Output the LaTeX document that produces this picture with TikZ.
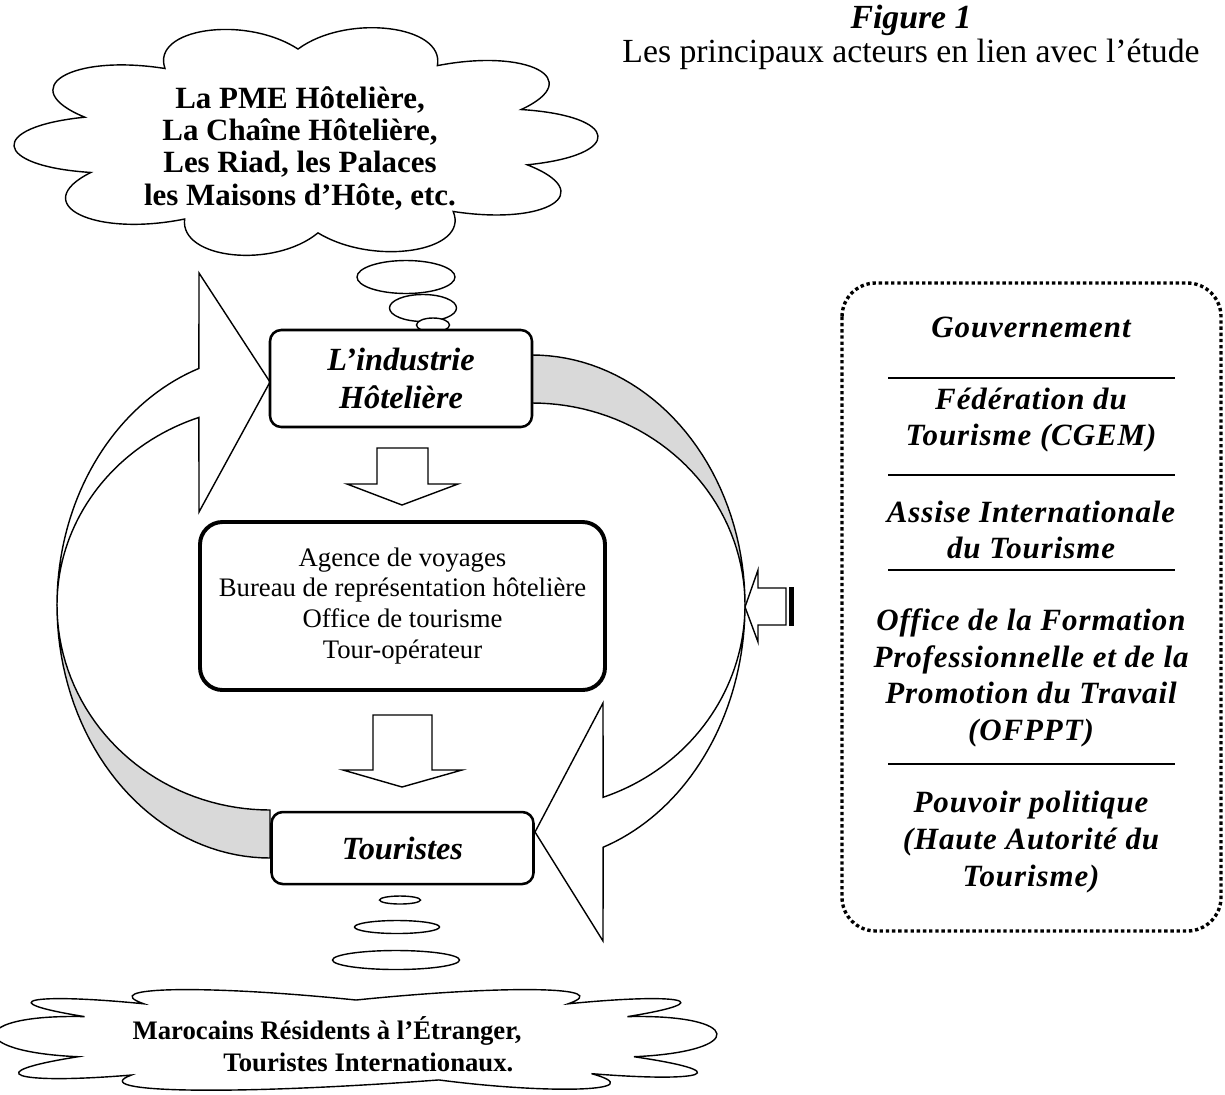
\documentclass[tikz,border=0pt]{standalone}
\usepackage{fontspec}
\setmainfont{Liberation Serif}
\newfontfamily\acteurfont[LetterSpace=3]{Liberation Serif}
\usetikzlibrary{shapes.geometric}
\newcommand{\px}{0.0125cm}
\newcommand{\cx}[2]{sign(cos(#1))*pow(abs(cos(#1)),#2)}
\newcommand{\sy}[2]{sign(sin(#1))*pow(abs(sin(#1)),#2)}
\newcommand{\nuage}[7]{%
    \draw[nuagetrait] ({#1+#3*\cx{#5}{#7}}, {#2+#4*\sy{#5}{#7}})
        \foreach \a/\b in {#6} {
            .. controls ({#1+1.4*#3*\cx{\a+0.25*(\b-\a)}{#7}}, {#2+1.4*#4*\sy{\a+0.25*(\b-\a)}{#7}})
            and ({#1+1.4*#3*\cx{\b-0.25*(\b-\a)}{#7}}, {#2+1.4*#4*\sy{\b-0.25*(\b-\a)}{#7}})
            .. ({#1+#3*\cx{\b}{#7}}, {#2+#4*\sy{\b}{#7}})
        } -- cycle;}

\begin{document}
\begin{tikzpicture}
    [
        x = 0.0125cm, y = -0.0125cm,
        nuagetrait/.style = {draw, fill = white, line width = 0.5pt},
        bulle/.style = {draw, ellipse, fill = white, inner sep = 0pt, line width = 0.5pt},
        hotelbox/.style = {draw, fill = white, rounded corners = 4pt, line width = 0.9pt,
            minimum width = 262*\px, align = center,
            font = \bfseries\itshape\fontsize{11.5}{13.5}\selectfont},
        agencebox/.style = {draw, fill = white, rounded corners = 8pt, line width = 1.4pt,
            minimum width = 405*\px, minimum height = 168*\px, align = center,
            font = \fontsize{9.5}{11}\selectfont},
        acteur/.style = {align = center, font = \acteurfont\bfseries\itshape\fontsize{11}{13}\selectfont},
        bandback/.style = {draw, fill = gray!30, line width = 0.5pt},
        bandfront/.style = {draw, fill = white, line width = 0.5pt},
        blockarrow/.style = {draw, fill = white, line width = 0.5pt}
    ]

        \useasboundingbox (0,0) rectangle (1225,1094);

        \node[anchor = north, inner sep = 0pt, align = center, font = \fontsize{12}{8.5}\selectfont] (titre) at (911,5)
            {\textbf{\textit{Figure 1}}\\Les principaux acteurs en lien avec l’étude};

        \nuage{306}{141}{229}{92}{15}{15/50, 50/87, 87/122, 122/160, 160/195, 195/232, 232/268, 268/305, 305/340, 340/375}{1}
        \node[align = center, font = \bfseries\fontsize{11}{11.5}\selectfont] (hotelstexte) at (300,148)
            {La PME Hôtelière,\\La Chaîne Hôtelière,\\Les Riad, les Palaces\\les Maisons d’Hôte, etc.};

        \node[bulle, minimum width = 98*\px, minimum height = 33*\px] (bulle1) at (406,277) {};
        \node[bulle, minimum width = 67*\px, minimum height = 27*\px] (bulle2) at (423,308) {};
        \node[bulle, minimum width = 33*\px, minimum height = 14*\px] (bulle3) at (433,325) {};

        \draw[bandback] plot[domain = -90:0, samples = 40] ({532+213*cos(\x)}, {605+250*sin(\x)})
            -- plot[domain = 0:-90, samples = 40] ({532+213*cos(\x)}, {605+202*sin(\x)}) -- cycle;
        \draw[bandback] plot[domain = 180:90, samples = 40] ({270+213*cos(\x)}, {605+253*sin(\x)})
            -- plot[domain = 90:180, samples = 40] ({270+213*cos(\x)}, {605+205*sin(\x)}) -- cycle;

        \draw[bandfront] plot[domain = 0:70.5, samples = 40] ({532+213*cos(\x)}, {605+257*sin(\x)})
            -- (603,941) -- (535,832) -- (603,703)
            -- plot[domain = 70.5:0, samples = 40] ({532+213*cos(\x)}, {605+204*sin(\x)}) -- cycle;
        \draw[bandfront] plot[domain = 180:250.5, samples = 40] ({270+213*cos(\x)}, {605+251*sin(\x)})
            -- (199,273) -- (270,382) -- (199,512)
            -- plot[domain = 250.5:180, samples = 40] ({270+213*cos(\x)}, {605+199*sin(\x)}) -- cycle;

        \node[hotelbox, minimum height = 97*\px] (industrie) at (401,378.5) {L’industrie\\Hôtelière};
        \node[agencebox] (agences) at (402.5,606)
            {Agence de voyages\\Bureau de représentation hôtelière\\Office de tourisme\\Tour-opérateur};
        \node[hotelbox, minimum height = 72*\px] (touristes) at (402.5,848) {Touristes};

        \draw[blockarrow] (377,448) -- (428,448) -- (428,484) -- (458,484) -- (402,505)
            -- (347,484) -- (377,484) -- cycle;
        \draw[blockarrow] (373,715) -- (432,715) -- (432,770) -- (462,770) -- (402,787)
            -- (343,770) -- (373,770) -- cycle;

        \draw[blockarrow] (745,607) -- (758,570) -- (758,588) -- (786,588) -- (786,625)
            -- (758,625) -- (758,642) -- cycle;
        \fill (789,587) rectangle (794,626);

        \node[bulle, minimum width = 41*\px, minimum height = 8*\px] (bulle4) at (400,900) {};
        \node[bulle, minimum width = 85*\px, minimum height = 13*\px] (bulle5) at (397,927) {};
        \node[bulle, minimum width = 127*\px, minimum height = 19*\px] (bulle6) at (396,960) {};

        \nuage{356}{1040}{280}{40}{170}{170/200, 200/235, 235/270, 270/305, 305/340, 340/370, 370/405, 405/445, 445/490, 490/530}{0.5}
        \node[anchor = west, inner sep = 0pt, align = left, font = \bfseries\fontsize{9.5}{11.5}\selectfont] (touristestexte) at (132,1044)
            {Marocains Résidents à l’Étranger,\\\hspace*{3.4em}Touristes Internationaux.};

        \draw[densely dotted, line width = 1.2pt, rounded corners = 12pt] (842,283) rectangle (1221,931);
        \node[acteur] (gouv) at (1031,327) {Gouvernement};
        \node[acteur] (federation) at (1031,420) {Fédération du\\Tourisme (CGEM)};
        \node[acteur] (assise) at (1031,530) {Assise Internationale\\du Tourisme};
        \node[acteur] (ofppt) at (1031,678) {Office de la Formation\\Professionnelle et de la\\Promotion du Travail\\(OFPPT)};
        \node[acteur] (pouvoir) at (1031,842) {Pouvoir politique\\(Haute Autorité du\\Tourisme)};
        \draw[line width = 0.5pt] (888,378) -- (1175,378);
        \draw[line width = 0.5pt] (888,475) -- (1175,475);
        \draw[line width = 0.5pt] (888,570) -- (1175,570);
        \draw[line width = 0.5pt] (888,764) -- (1175,764);
    \end{tikzpicture}
\end{document}
